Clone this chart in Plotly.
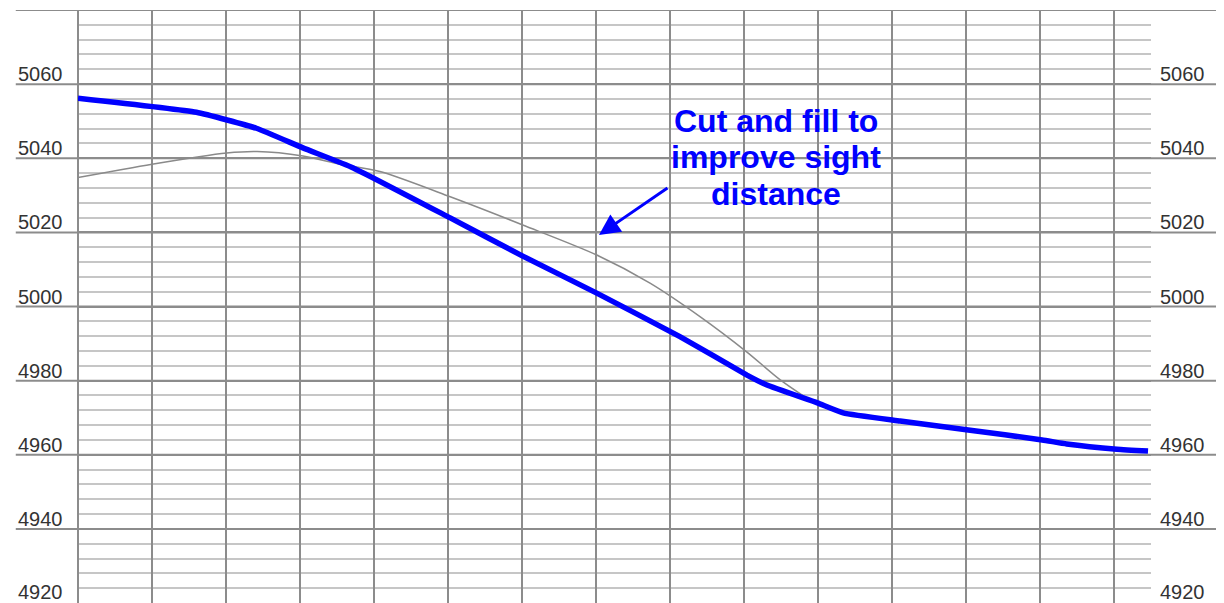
import plotly.graph_objects as go

# station index (one grid column = 1) and elevation (ft)
PROPOSED_STA = [0.0, 1.6, 2.41, 3.04, 3.72, 5.03, 6.01, 7.01, 8.14, 9.04, 9.31, 9.99,
                10.34, 11.11, 12.03, 13.03, 13.36, 14.04, 14.46]
PROPOSED_ELEV = [5056.2, 5052.4, 5048.1, 5042.8, 5037.4, 5023.9, 5013.6, 5003.6, 4991.8,
                 4981.5, 4978.8, 4974.0, 4971.3, 4969.1, 4966.7, 4964.0, 4962.9, 4961.5, 4961.0]

EXISTING_STA = [0.0, 1.0, 2.01, 2.42, 3.04, 3.54, 4.08, 5.03, 6.01, 7.01, 7.73,
                8.41, 9.04, 9.49, 9.93]
EXISTING_ELEV = [5034.8, 5038.4, 5041.4, 5041.8, 5040.6, 5038.4, 5036.4, 5029.6, 5022.0,
                 5013.9, 5006.3, 4997.2, 4987.7, 4980.2, 4974.2]

ELEV_LABELS = [5060, 5040, 5020, 5000, 4980, 4960, 4940, 4920]
MAJOR_LINES = [5080, 5060, 5040, 5020, 5000, 4980, 4960, 4940]
NOTE_LINES = ["Cut and fill to", "improve sight", "distance"]

BLUE = "#0000ff"
GRID_DARK = "#8c8c8c"
GRID_LIGHT = "#c6c6c6"
LABEL = "#333333"
FONT = "Liberation Sans, Arial, sans-serif"

fig = go.Figure()
fig.add_trace(go.Scatter(x=EXISTING_STA, y=EXISTING_ELEV, mode="lines",
                         line={"color": "#8a8a8a", "width": 1.5, "shape": "spline", "smoothing": 0.8},
                         hoverinfo="skip"))
fig.add_trace(go.Scatter(x=PROPOSED_STA, y=PROPOSED_ELEV, mode="lines",
                         line={"color": BLUE, "width": 5.5, "shape": "spline", "smoothing": 0.4},
                         hoverinfo="skip"))

# major elevation lines run past the grid on both sides, like the profile sheet
for v in MAJOR_LINES:
    fig.add_shape(type="line", xref="paper", yref="y", x0=-0.058, x1=1.07, y0=v, y1=v,
                  line={"color": GRID_DARK, "width": 2}, layer="below")

for v in ELEV_LABELS:
    for xp in (-0.0354, 1.0298):
        fig.add_annotation(x=xp, xref="paper", y=v, yref="y", text=str(v), showarrow=False,
                           xanchor="center", yanchor="middle", yshift=10 if v > 4920 else 11,
                           font={"family": FONT, "size": 20, "color": LABEL})

for text, y in zip(NOTE_LINES, [5050.05, 5040.33, 5030.35]):
    fig.add_annotation(x=9.43, y=y, text=f"<b>{text}</b>", showarrow=False,
                       xanchor="center", yanchor="middle",
                       font={"family": FONT, "size": 32, "color": BLUE})

fig.add_annotation(x=7.04, y=5019.3, text="", showarrow=True, ax=70, ay=-48,
                   arrowhead=2, arrowsize=1.4, arrowwidth=3, arrowcolor=BLUE)

# the page body has an 8px margin, so the figure is sized to the visible area
fig.update_layout(
    width=1216, height=595,
    margin={"l": 70, "r": 73, "t": 2, "b": 0},
    paper_bgcolor="white", plot_bgcolor="white",
    showlegend=False,
)
fig.update_xaxes(range=[0, 14.5], dtick=1, tick0=0, showgrid=True, gridcolor=GRID_DARK, gridwidth=2,
                 zeroline=True, zerolinecolor=GRID_DARK, zerolinewidth=2,
                 showticklabels=False, ticks="", showline=False)
fig.update_yaxes(range=[4920, 5080], dtick=20, tick0=4920, showgrid=True, gridcolor=GRID_DARK, gridwidth=2,
                 minor={"dtick": 4, "tick0": 4920, "showgrid": True, "gridcolor": GRID_LIGHT, "gridwidth": 1.5},
                 zeroline=False, showticklabels=False, ticks="", showline=False)

fig.write_html("out.html")
